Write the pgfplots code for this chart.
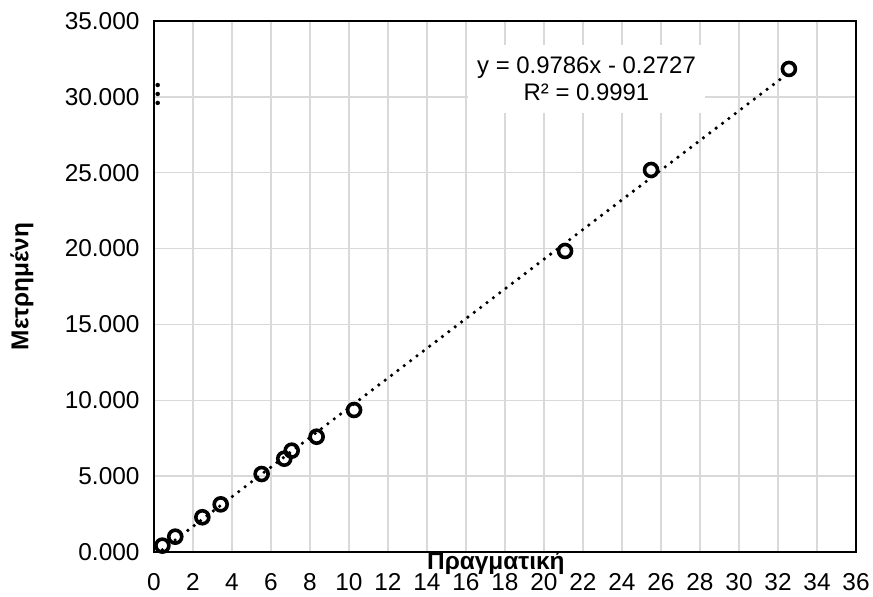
\documentclass[border=0pt]{standalone}
\usepackage{fontspec}
\setmainfont{Liberation Sans}
\usepackage{pgfplots}
\pgfplotsset{compat=1.18}
\definecolor{gridgray}{HTML}{D9D9D9}
\begin{document}
\begin{tikzpicture}
\begin{axis}[
  scale only axis,
  width=702bp, height=531bp,
  xmin=0, xmax=36, ymin=0, ymax=35,
  xtick={0,2,...,36}, ytick={0,5,...,35},
  major tick length=0pt,
  grid=major,
  major grid style={draw=gridgray, line width=1.4bp},
  axis line style={black, line width=1.8bp},
  clip mode=individual,
  /pgf/number format/assume math mode=true,
  yticklabel style={/pgf/number format/fixed, /pgf/number format/fixed zerofill, /pgf/number format/precision=3, /pgf/number format/1000 sep={}, xshift=-11bp},
  xticklabel style={/pgf/number format/fixed, /pgf/number format/1000 sep={}, yshift=-18bp},
  tick label style={font=\fontsize{24.5}{29}\selectfont},
  xlabel={Πραγματική},
  ylabel={Μετρημένη},
  label style={font=\fontsize{24.5}{28}\selectfont\bfseries},
  xlabel style={at={(axis description cs:0.487,0)}, anchor=base, yshift=-17bp},
  ylabel style={at={(axis description cs:-0.188,0.5)}, anchor=center},
]
\coordinate (O) at (rel axis cs:0,0);
% trendline
\addplot[black, line width=3.6bp, line cap=round, dash pattern=on 0pt off 8bp] coordinates {(0.43,0.148) (32.56,31.59)};
% data
\addplot[only marks, mark=o, mark size=6.5bp, mark options={black, line width=3.6bp}] coordinates {
(0.43,0.42) (1.09,1.01) (2.48,2.29) (3.42,3.14) (5.52,5.14) (6.68,6.15) (7.06,6.68) (8.34,7.60) (10.26,9.36) (21.08,19.84) (25.49,25.18) (32.56,31.84)
};
% stray dots
\addplot[only marks, mark=*, mark size=2bp, mark options={black}] coordinates {(0.19,30.78) (0.19,30.19) (0.19,29.60)};
\node[fill=white, inner sep=0pt, minimum width=237bp, minimum height=68bp, align=center, font=\fontsize{24}{27}\selectfont] at (axis cs:22.18,31.18) {y = 0.9786x - 0.2727\\R² = 0.9991};
\end{axis}
\pgfresetboundingbox
\path[use as bounding box] (O) ++(-154bp,-45bp) rectangle ++(873bp,597bp);
\end{tikzpicture}
\end{document}
